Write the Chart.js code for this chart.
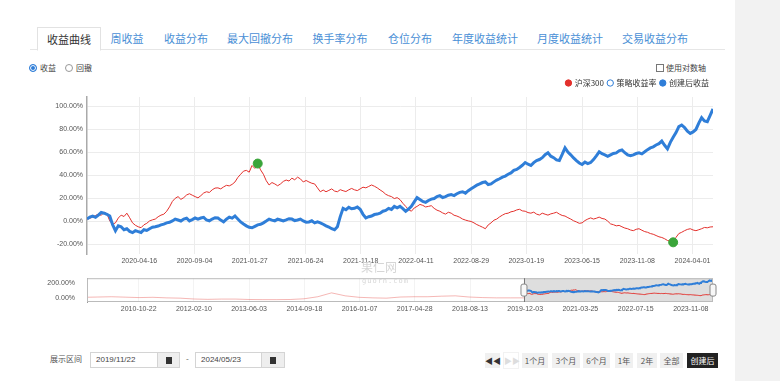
<!DOCTYPE html>
<html>
<head>
<meta charset="utf-8">
<script src="https://cdn.jsdelivr.net/npm/chart.js@4.4.1/dist/chart.umd.min.js"></script>
<style>
body{margin:0;width:780px;height:381px;background:#fff;position:relative;overflow:hidden;font-family:"Liberation Sans","Noto Sans CJK SC",sans-serif;}
#side{position:absolute;left:735px;top:0;width:45px;height:381px;background:#f2f2f2;}
.tabs{position:absolute;left:30px;top:27px;width:695px;height:22px;border-bottom:1px solid #e6e6e6;}
.tab{position:absolute;top:0;height:22px;line-height:22px;font-size:11px;color:#4a8fd6;transform:translateX(-50%);white-space:nowrap;font-family:"Noto Sans CJK SC",sans-serif;}
.tab.active{color:#333;border:1px solid #e2e2e2;border-bottom:1px solid #fff;padding:0 9px;background:#fff;}
.opt{position:absolute;font-size:8px;color:#444;font-family:"Noto Sans CJK SC",sans-serif;white-space:nowrap;}
.radio{position:absolute;width:6px;height:6px;border:1px solid #999;border-radius:50%;background:#fff;}
.radio.on{border-color:#2f7ed8;background:#2f7ed8;box-shadow:inset 0 0 0 1px #fff;}
.chk{position:absolute;width:6px;height:6px;border:1px solid #777;background:#fff;}
canvas{position:absolute;}
.wm{position:absolute;color:#d6d6d6;white-space:nowrap;pointer-events:none;}
.lbl{position:absolute;font-size:8px;color:#555;font-family:"Noto Sans CJK SC",sans-serif;}
.inp{position:absolute;height:14px;border:1px solid #d4d4d4;background:#fff;font-size:8px;line-height:14px;color:#444;padding-left:5px;box-sizing:content-box;}
.cal{position:absolute;height:14px;border:1px solid #d4d4d4;background:#eee;}
.cal i{position:absolute;left:8px;top:4px;width:6px;height:6px;background:#333;border-top:1px solid #333;}
.btn{position:absolute;top:353px;height:15px;line-height:15px;background:#f0f0f0;font-size:8px;color:#555;text-align:center;font-family:"Noto Sans CJK SC",sans-serif;}
</style>
</head>
<body>
<div id="side"></div>

<div class="tabs">
  <div class="tab active" style="left:39px">收益曲线</div>
  <div class="tab" style="left:97px">周收益</div>
  <div class="tab" style="left:156px">收益分布</div>
  <div class="tab" style="left:230px">最大回撤分布</div>
  <div class="tab" style="left:310px">换手率分布</div>
  <div class="tab" style="left:380px">仓位分布</div>
  <div class="tab" style="left:455px">年度收益统计</div>
  <div class="tab" style="left:540px">月度收益统计</div>
  <div class="tab" style="left:625px">交易收益分布</div>
</div>

<div class="radio on" style="left:29px;top:64px"></div>
<div class="opt" style="left:40px;top:62px">收益</div>
<div class="radio" style="left:65px;top:64px"></div>
<div class="opt" style="left:76px;top:62px">回撤</div>
<div class="chk" style="left:656px;top:64px"></div>
<div class="opt" style="left:666px;top:62px">使用对数轴</div>

<canvas id="main" width="700" height="195" style="left:20px;top:75px"></canvas>
<canvas id="nav" width="700" height="46" style="left:20px;top:270px"></canvas>
<div class="wm" style="left:361px;top:258px;font-size:12px;font-family:'Noto Sans CJK SC'">果仁网</div>
<div class="wm" style="left:362px;top:277px;font-size:7px;letter-spacing:1px;font-family:'DejaVu Sans Mono'">guorn.com</div>

<div class="lbl" style="left:50px;top:353px">展示区间</div>
<div class="inp" style="left:90px;top:352px;width:62px">2019/11/22</div>
<div class="cal" style="left:157px;top:352px;width:21px"><i></i></div>
<div class="lbl" style="left:186px;top:353px">-</div>
<div class="inp" style="left:195px;top:352px;width:61px">2024/05/23</div>
<div class="cal" style="left:261px;top:352px;width:22px"><i></i></div>

<div class="btn" style="left:485px;width:15px;color:#333">◀◀</div>
<div class="btn" style="left:503px;width:14px;background:#fff;border:1px solid #f2f2f2;top:352px;color:#ddd">▶▶</div>
<div class="btn" style="left:522px;width:26px">1个月</div>
<div class="btn" style="left:552px;width:28px">3个月</div>
<div class="btn" style="left:583px;width:27px">6个月</div>
<div class="btn" style="left:615px;width:18px">1年</div>
<div class="btn" style="left:637px;width:20px">2年</div>
<div class="btn" style="left:660px;width:23px">全部</div>
<div class="btn" style="left:687px;width:31px;background:#222;color:#fff">创建后</div>

<script>
// 沪深300 / 创建后收益, one value per 5 trading days from 2019-11-22 (%)
const sampleStep = 5;
const hs300 = [
  1.9,2.6,3.6,5.0,6.2,5.1,7.9,6.5,0.3,-2.6,-1.4,2.8,5.3,4.1,7.0,3.0,-1.4,-3.5,-4.8,-5.6,
  -3.1,-1.8,0.3,1.2,1.9,3.9,5.3,6.1,8.7,12.5,17.2,19.9,21.4,19.0,20.5,22.8,23.9,22.6,21.4,20.3,
  22.2,24.5,25.6,25.0,27.3,28.8,29.0,28.1,29.8,31.2,30.7,32.0,34.1,38.0,40.8,43.5,44.2,42.6,48.4,45.9,
  50.1,44.6,40.8,35.2,31.5,33.6,32.4,30.8,32.4,34.6,35.8,34.9,37.4,36.0,38.3,36.8,34.1,35.4,34.1,33.0,
  32.4,29.0,25.6,27.1,25.6,26.8,28.1,26.2,25.6,27.4,26.5,25.8,27.3,28.5,27.3,26.6,28.1,29.6,29.0,30.2,
  31.5,30.4,29.0,27.2,25.6,23.4,22.2,21.4,19.7,20.5,18.8,15.6,12.9,10.1,8.7,11.5,12.9,14.6,13.8,12.4,
  12.9,13.5,11.2,9.6,8.7,7.2,6.2,7.8,7.0,5.2,4.5,3.4,1.9,1.0,0.3,-0.2,-1.4,-2.9,-4.0,-5.2,
  -6.5,-3.2,-1.4,0.9,1.9,3.8,5.3,6.6,7.0,8.2,8.7,9.8,10.4,9.0,8.7,7.5,7.0,7.9,6.2,5.4,
  7.0,6.1,5.3,6.4,7.0,7.8,6.2,5.0,4.5,3.1,1.9,0.4,-0.6,-1.8,-1.4,0.6,1.9,2.9,1.9,2.6,
  3.6,2.4,1.9,0.1,-2.3,-3.0,-4.0,-3.6,-4.8,-5.9,-6.5,-7.6,-8.2,-7.0,-6.5,-7.8,-9.0,-9.6,-10.7,-11.3,
  -12.4,-13.5,-14.1,-15.2,-16.7,-17.2,-18.3,-14.0,-10.7,-9.6,-8.2,-7.1,-6.5,-7.6,-8.2,-7.4,-6.5,-5.4,-5.7,-5.0,
  -4.8];
const afterCreate = [
  1.9,3.6,4.5,3.4,5.3,7.6,7.0,6.0,4.5,-3.0,-8.2,-4.0,-4.8,-7.4,-6.5,-8.8,-9.9,-8.2,-9.0,-9.8,
  -7.4,-8.0,-6.5,-5.2,-4.8,-4.2,-3.1,-2.5,-1.4,-0.9,0.3,1.9,1.1,0.2,1.9,2.6,0.3,1.4,2.8,1.9,
  2.8,3.4,1.1,0.4,1.9,3.1,2.8,1.0,-0.6,1.8,3.6,2.7,4.5,2.0,-0.6,-2.4,-4.0,-5.3,-5.7,-4.4,
  -3.1,-2.6,-1.4,0.2,1.9,1.0,0.3,1.8,1.1,0.2,1.1,2.2,1.9,0.6,1.1,1.9,0.3,-0.8,-0.6,0.4,
  -1.4,-0.5,-1.4,-2.6,-4.0,-5.0,-6.5,-7.4,-4.8,4.0,11.2,10.0,12.1,10.8,11.2,12.4,10.4,6.0,2.8,3.9,
  4.5,5.8,6.2,7.0,8.7,9.4,11.2,10.3,12.9,11.6,12.9,11.0,8.7,10.6,12.9,16.8,20.5,18.9,17.2,16.4,
  18.0,19.2,19.7,21.4,22.2,20.6,21.4,22.6,23.1,22.3,23.9,25.1,25.6,24.4,26.5,28.2,29.8,31.3,32.4,33.6,
  34.1,31.9,32.4,34.2,35.8,36.9,38.3,39.2,40.8,42.0,44.2,45.0,46.7,48.6,51.0,49.5,48.4,50.9,52.7,53.6,
  55.2,57.8,59.4,56.5,55.2,53.3,52.7,58.0,63.7,60.1,57.7,55.0,52.7,50.6,49.3,51.4,50.1,51.0,53.5,56.8,
  60.3,58.6,57.7,56.4,57.7,58.9,59.4,61.2,62.0,59.5,57.7,56.9,57.7,58.8,59.4,58.5,60.3,62.2,63.7,64.6,
  66.2,67.4,69.6,66.0,62.8,68.5,72.9,77.0,82.2,83.6,81.4,78.2,76.3,77.6,79.7,85.2,89.9,87.1,86.5,92.0,
  97.5];
// max drawdown of 沪深300: peak and trough
const ddIndex = [300, 1030];
const ddValue = [50.1, -18.3];

const xTickPos = [92, 189, 286, 384, 481, 578, 675, 772, 870, 967, 1064];
const xTickLabels = ['2020-04-16','2020-09-04','2021-01-27','2021-06-24','2021-11-18','2022-04-11',
  '2022-08-29','2023-01-19','2023-06-15','2023-11-08','2024-04-01'];
const yTicks = [-20, 0, 20, 40, 60, 80, 100];

// navigator: full history of 沪深300, one value per 80 trading days
const navStart = -2560, navStep = 80;
const navHistory = [4,8,12,6,0,4,-4,-8,-20,-25,-21,-21,-27,-29,-29,-27,-17,12,67,25,4,-4,-8,8,12,12,20,25,8,0,-4,-4,-4];
const navTickPos = [-2242,-1921,-1600,-1278,-957,-636,-314,7,328,650,971];
const navTickLabels = ['2010-10-22','2012-02-10','2013-06-03','2014-09-18','2016-01-07','2017-04-28',
  '2018-08-13','2019-12-03','2021-03-25','2022-07-15','2023-11-08'];
const navYTicks = [0, 200];
const rangeEnd = 1100;

const RED = '#e3302c', BLUE = '#2f7ed8', GREEN = '#3aa53a';
const tickFont = {size: 7, family: '"Liberation Sans", Arial, sans-serif'};
const pts = arr => arr.map((v, i) => ({x: i * sampleStep, y: v}));

new Chart(document.getElementById('main'), {
  type: 'line',
  data: {
    datasets: [
      {label: '沪深300', data: pts(hs300), borderColor: RED, backgroundColor: RED, borderWidth: 1, pointRadius: 0, order: 2},
      {label: '策略收益率', data: [], borderColor: BLUE, backgroundColor: '#fff', borderWidth: 1, pointRadius: 0, order: 3},
      {label: '创建后收益', data: pts(afterCreate), borderColor: BLUE, backgroundColor: BLUE, borderWidth: 3, pointRadius: 0, order: 1},
      {type: 'scatter', label: '回撤', data: ddIndex.map((x, i) => ({x, y: ddValue[i]})),
        backgroundColor: GREEN, borderColor: GREEN, pointRadius: 4.5, order: 0}
    ]
  },
  options: {
    responsive: false, animation: false,
    layout: {padding: {right: 7}},
    plugins: {
      tooltip: {enabled: false},
      legend: {
        align: 'end',
        labels: {
          usePointStyle: true, pointStyle: 'circle', boxWidth: 4.5, boxHeight: 4.5, padding: 4,
          color: '#333', font: {size: 8, family: '"Noto Sans CJK SC", sans-serif'},
          generateLabels: c => Chart.defaults.plugins.legend.labels.generateLabels(c)
            .filter(l => l.text !== '回撤').map(l => Object.assign(l, {lineWidth: 1})),
          sort: (a, b) => a.datasetIndex - b.datasetIndex
        }
      }
    },
    scales: {
      x: {
        type: 'linear', min: 0, max: rangeEnd,
        afterBuildTicks: s => { s.ticks = xTickPos.map(v => ({value: v})); },
        afterFit: s => { s.height = 16; },
        ticks: {autoSkip: false, maxRotation: 0, padding: 3, color: '#555', font: tickFont,
          callback: v => xTickLabels[xTickPos.indexOf(v)]},
        grid: {color: '#ececec', drawTicks: false},
        border: {display: false}
      },
      y: {
        min: -28.45, max: 107.9,
        afterBuildTicks: s => { s.ticks = yTicks.map(v => ({value: v})); },
        afterFit: s => { s.width = 67; },
        ticks: {padding: 4, color: '#555', font: tickFont, callback: v => v.toFixed(2) + '%'},
        grid: {color: '#ececec', drawTicks: false},
        border: {color: '#aaa', width: 1.5}
      }
    }
  }
});

const navDecor = {
  id: 'navDecor',
  beforeDatasetsDraw(chart) {
    const {ctx, chartArea: a, scales: {x}} = chart;
    const l = x.getPixelForValue(0), r = x.getPixelForValue(rangeEnd);
    ctx.save();
    ctx.fillStyle = '#dedede';
    ctx.fillRect(l, a.top, r - l, a.bottom - a.top);
    ctx.restore();
  },
  afterDatasetsDraw(chart) {
    const {ctx, chartArea: a, scales: {x}} = chart;
    const l = x.getPixelForValue(0), r = x.getPixelForValue(rangeEnd);
    ctx.save();
    ctx.strokeStyle = '#bbb';
    ctx.lineWidth = 1;
    ctx.strokeRect(a.left + 0.5, a.top + 0.5, a.right - a.left - 1, a.bottom - a.top - 1);
    ctx.strokeStyle = '#777';
    ctx.beginPath();
    ctx.moveTo(l + 0.5, a.top); ctx.lineTo(l + 0.5, a.bottom);
    ctx.stroke();
    const my = (a.top + a.bottom) / 2;
    [l, r].forEach(px => {
      ctx.fillStyle = '#f7f7f7';
      ctx.strokeStyle = '#888';
      ctx.beginPath();
      ctx.roundRect(px - 3, my - 6, 6, 12, 2);
      ctx.fill(); ctx.stroke();
    });
    ctx.restore();
  }
};

new Chart(document.getElementById('nav'), {
  type: 'line',
  data: {
    datasets: [
      {data: navHistory.map((v, i) => ({x: navStart + i * navStep, y: v})), borderColor: 'rgba(227,48,44,0.35)',
        borderWidth: 1, pointRadius: 0, yAxisID: 'y'},
      {data: pts(afterCreate), borderColor: BLUE, borderWidth: 2, pointRadius: 0, yAxisID: 'yb'},
      {data: pts(hs300), borderColor: RED, borderWidth: 1, pointRadius: 0, yAxisID: 'yr'}
    ]
  },
  plugins: [navDecor],
  options: {
    responsive: false, animation: false,
    layout: {padding: {top: 5, right: 7}},
    plugins: {legend: {display: false}, tooltip: {enabled: false}},
    scales: {
      x: {
        type: 'linear', min: -2543, max: rangeEnd,
        afterBuildTicks: s => { s.ticks = navTickPos.map(v => ({value: v})); },
        afterFit: s => { s.height = 14; },
        ticks: {autoSkip: false, maxRotation: 0, padding: 3, color: '#555', font: tickFont,
          callback: v => navTickLabels[navTickPos.indexOf(v)]},
        grid: {color: '#f3f3f3', drawTicks: false},
        border: {display: false}
      },
      y: {
        min: -62.5, max: 275,
        afterBuildTicks: s => { s.ticks = navYTicks.map(v => ({value: v})); },
        afterFit: s => { s.width = 67; },
        ticks: {padding: 4, color: '#555', font: tickFont, callback: v => v.toFixed(2) + '%'},
        grid: {display: false},
        border: {color: '#999', width: 1}
      },
      yb: {display: false, min: -86.6, max: 108.3},
      yr: {display: false, min: -90, max: 180}
    }
  }
});
</script>
</body>
</html>
